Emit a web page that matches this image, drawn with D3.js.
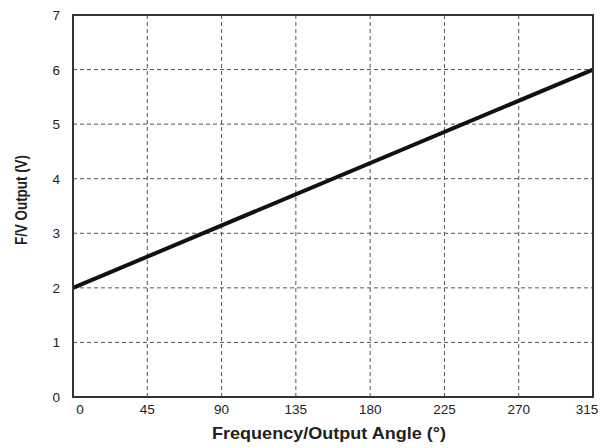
<!DOCTYPE html>
<html><head><meta charset="utf-8">
<script src="https://cdn.jsdelivr.net/npm/d3@7"></script>
<style>body{margin:0;background:#fff;} text{font-family:"Liberation Sans",Arial,sans-serif;}</style>
</head><body>
<svg id="c" width="613" height="448"></svg>
<script>
const xTicks = [0,45,90,135,180,225,270,315];
const yTicks = [0,1,2,3,4,5,6,7];
const angle = [0,315];
const output = [2.0,6.0];
const xTitle = "Frequency/Output Angle (°)";
const yTitle = "F/V Output (V)";

const svg = d3.select("#c");
const L=73, R=593, T=15, B=397;
const x = d3.scaleLinear().domain([0,315]).range([L,R]);
const y = d3.scaleLinear().domain([0,7]).range([B,T]);

// grid
svg.append("g").selectAll("line").data(xTicks.slice(1,-1)).join("line")
  .attr("x1",d=>x(d)).attr("x2",d=>x(d)).attr("y1",T).attr("y2",B)
  .attr("stroke","#555").attr("stroke-width",1).attr("stroke-dasharray","4,3");
svg.append("g").selectAll("line").data(yTicks.slice(1,-1)).join("line")
  .attr("y1",d=>y(d)).attr("y2",d=>y(d)).attr("x1",L).attr("x2",R)
  .attr("stroke","#555").attr("stroke-width",1).attr("stroke-dasharray","4,3");

// data line
svg.append("path").datum(angle.map((a,i)=>[a,output[i]]))
  .attr("d",d3.line().x(d=>x(d[0])).y(d=>y(d[1])))
  .attr("fill","none").attr("stroke","#111").attr("stroke-width",4);

// frame
svg.append("rect").attr("x",L).attr("y",T).attr("width",R-L).attr("height",B-T)
  .attr("fill","none").attr("stroke","#333").attr("stroke-width",2);

// tick labels
svg.append("g").selectAll("text").data(xTicks).join("text")
  .attr("x",(d,i)=>x(d)+(i===0?7:(i===xTicks.length-1?-6:0)))
  .attr("y",414).attr("text-anchor","middle").attr("font-size",13.5).attr("fill","#222")
  .text(d=>d);
svg.append("g").selectAll("text").data(yTicks).join("text")
  .attr("x",60).attr("y",d=>y(d)+5).attr("text-anchor","end").attr("font-size",13.5).attr("fill","#222")
  .text(d=>d);

// titles
svg.append("text").attr("x",212).attr("y",439).attr("text-anchor","start")
  .attr("font-size",16.5).attr("font-weight","bold").attr("fill","#222")
  .attr("textLength",234).attr("lengthAdjust","spacingAndGlyphs").text(xTitle);
svg.append("text").attr("transform","translate(27,245) rotate(-90) scale(1,1.2)").attr("text-anchor","start")
  .attr("font-size",13.4).attr("font-weight","bold").attr("fill","#222")
  .attr("textLength",90).attr("lengthAdjust","spacingAndGlyphs").text(yTitle);
</script>
</body></html>
